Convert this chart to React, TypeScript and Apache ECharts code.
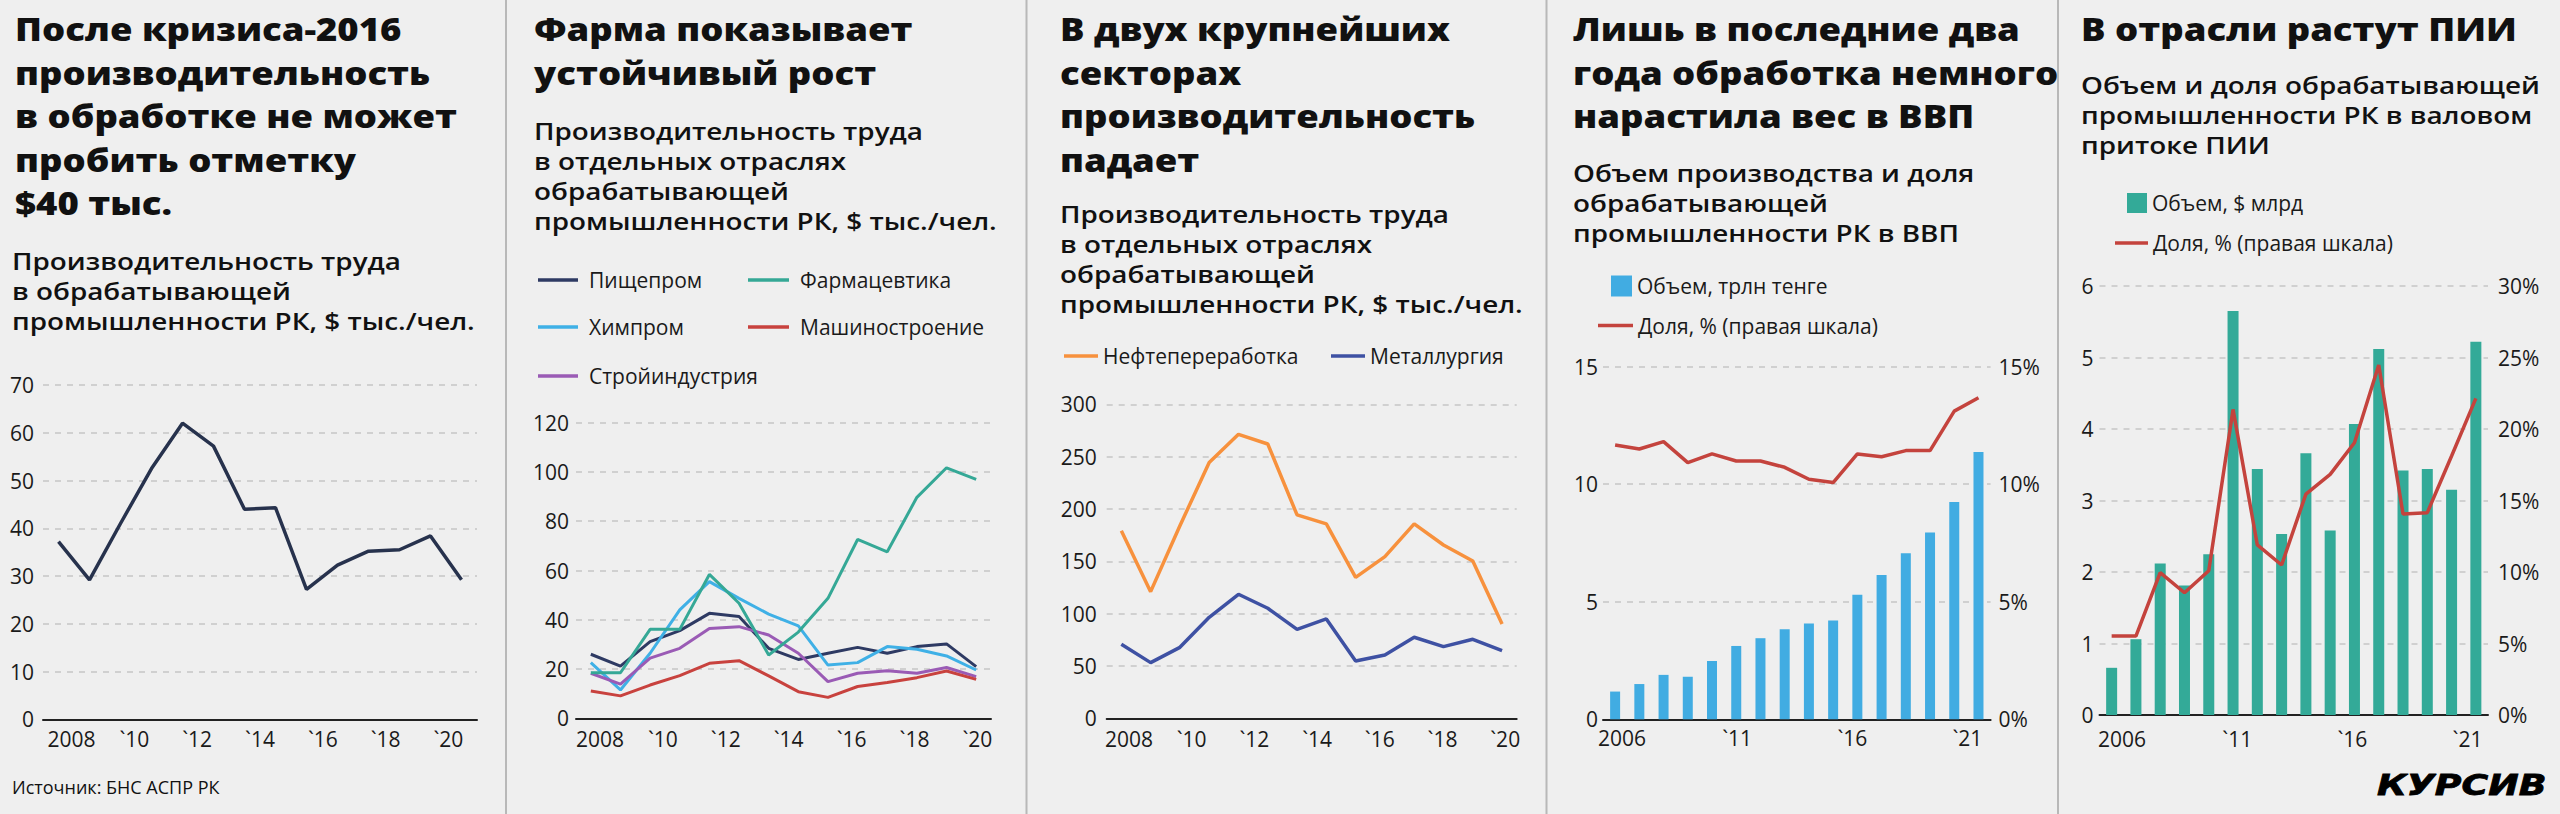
import React, { useEffect, useRef } from 'react';
import * as echarts from 'echarts';

const FONT = '"Open Sans", "Noto Sans", sans-serif';
const TEXT = '#1a1a1a';
const GRID_LINE = '#c6c6c6';
const BG = '#efefef';

// ---------- Panel 1: productivity in manufacturing ----------
const years0821 = ['2008', '2009', '2010', '2011', '2012', '2013', '2014', '2015', '2016', '2017', '2018', '2019', '2020', '2021'];
const manufacturingProductivity = [37.2, 29.2, 41, 52.5, 62, 57.2, 44.0, 44.3, 27.2, 32.3, 35.2, 35.5, 38.4, 29.2];

// ---------- Panel 2: selected industries ----------
const foodIndustry = [26.0, 21.2, 31.1, 35.6, 42.6, 41.3, 28.4, 23.9, 26.4, 28.8, 26.4, 29.1, 30.2, 21.0];
const pharma = [18.5, 18.5, 36.1, 36.1, 58.4, 46.7, 25.7, 35.0, 48.7, 72.6, 67.6, 89.7, 101.7, 97.0];
const chemicals = [22.6, 11.5, 26.4, 44.0, 55.5, 48.7, 42.3, 37.5, 21.6, 22.6, 29.1, 28.0, 25.3, 19.6];
const machinery = [11.1, 9.1, 13.5, 17.3, 22.3, 23.4, 17.2, 10.8, 8.5, 12.9, 14.5, 16.5, 19.2, 15.8];
const construction = [18.3, 13.9, 24.4, 28.4, 36.5, 37.2, 33.8, 26.4, 14.9, 18.3, 19.3, 18.3, 20.6, 16.9];

// ---------- Panel 3: two largest sectors ----------
const oilRefining = [179.3, 121.0, 184, 244.3, 271.3, 262.1, 194.3, 185.7, 134.7, 154.5, 185.7, 165.6, 150.3, 90.1];
const metallurgy = [70.7, 53.2, 67.8, 96.5, 118.5, 105.1, 85.0, 94.9, 54.8, 60.5, 77.4, 68.5, 75.5, 64.6];

// ---------- Panel 4: output and share in GDP ----------
const years0621 = ['2006', '2007', '2008', '2009', '2010', '2011', '2012', '2013', '2014', '2015', '2016', '2017', '2018', '2019', '2020', '2021'];
const outputVolume = [1.18, 1.5, 1.89, 1.81, 2.48, 3.12, 3.45, 3.83, 4.08, 4.2, 5.3, 6.14, 7.06, 7.95, 9.24, 11.37];
const outputShare = [11.67, 11.5, 11.81, 10.92, 11.29, 10.99, 10.99, 10.72, 10.21, 10.07, 11.29, 11.17, 11.43, 11.43, 13.11, 13.68];

// ---------- Panel 5: FDI ----------
const fdiVolume = [0.66, 1.06, 2.12, 1.81, 2.25, 5.65, 3.44, 2.53, 3.66, 2.58, 4.07, 5.12, 3.42, 3.44, 3.15, 5.22];
const fdiShare = [5.52, 5.52, 9.95, 8.55, 10.09, 21.37, 11.89, 10.49, 15.45, 16.83, 19.04, 24.48, 14.06, 14.15, 18.11, 22.14];

// ---------- Tick labels ----------
const lineTickValues = [2008, 2010, 2012, 2014, 2016, 2018, 2020];
const lineTickLabels = ['2008', '`10', '`12', '`14', '`16', '`18', '`20'];
const barTickValues = [2006, 2011, 2016, 2021];
const barTickLabels = ['2006', '`11', '`16', '`21'];

const TITLE_SIZE = 32;
const TITLE_SCALE = 1.14;
const SUB_SIZE = 24;
const SUB_SCALE = 1.16;

function catAxis(gridIndex: number, data: string[]) {
  return {
    type: 'category', gridIndex, data, boundaryGap: true, position: 'bottom',
    axisLine: { show: true, onZero: false, lineStyle: { color: '#222', width: 2 } },
    axisTick: { show: false }, axisLabel: { show: false }, splitLine: { show: false },
  };
}

function labelAxis(gridIndex: number, min: number, max: number, values: number[], labels: string[], margin: number) {
  return {
    type: 'value', gridIndex, min, max, position: 'bottom',
    axisLine: { show: false }, axisTick: { show: false }, splitLine: { show: false },
    axisLabel: {
      show: true, customValues: values,
      formatter: (v: number) => { const i = values.indexOf(Math.round(v)); return i >= 0 ? labels[i] : ''; },
      fontSize: 21, fontFamily: FONT, color: TEXT, margin,
    },
  };
}

function yAxis(gridIndex: number, max: number, interval: number, margin: number, position: string, split: boolean, suffix = '') {
  return {
    type: 'value', gridIndex, min: 0, max, interval, position,
    axisLine: { show: false }, axisTick: { show: false },
    axisLabel: { fontSize: 21, fontFamily: FONT, color: TEXT, margin, formatter: (v: number) => `${v}${suffix}` },
    splitLine: { show: split, lineStyle: { color: GRID_LINE, width: 1.5, type: [6, 6] } },
  };
}

function legendItem(name: string, left: number, top: number, itemWidth: number, itemHeight: number, pad: number) {
  return {
    show: true, data: [name], left, top, orient: 'horizontal', padding: 0,
    itemWidth, itemHeight, selectedMode: false, icon: 'rect',
    textStyle: { fontSize: 21, fontFamily: FONT, color: TEXT, lineHeight: 24, padding: [0, 0, 0, pad] },
  };
}

function text(x: number, y: number, t: string, size: number, weight: any, lineHeight: number, scaleX = 1) {
  return {
    type: 'text', x, y, scaleX, silent: true,
    style: {
      text: t, fill: '#111', fontFamily: FONT, fontSize: size, fontWeight: weight, lineHeight,
      align: 'left', verticalAlign: 'top',
    },
  };
}

function lineSeries(name: string, data: number[], color: string, xAxisIndex: number, yAxisIndex: number, width = 3) {
  return {
    type: 'line', name, data, xAxisIndex, yAxisIndex, symbol: 'none', smooth: false,
    lineStyle: { color, width }, itemStyle: { color }, emphasis: { disabled: true },
  };
}

export default function App() {
  const ref = useRef<HTMLDivElement>(null);
  useEffect(() => {
    if (!ref.current) return;
    const chart = echarts.init(ref.current, null, { renderer: 'svg', width: 2560, height: 814 });

    const titleX = [15, 534, 1060, 1573, 2081];
    const subtitleTop = [246, 115.6, 199, 158, 70];
    const LH = 3.5; // legend line thickness

    const option: any = {
      animation: false,
      backgroundColor: BG,
      grid: [
        { left: 43, top: 385, width: 434, height: 334.3 },
        { left: 576, top: 422.7, width: 415, height: 295.6 },
        { left: 1106.7, top: 404.3, width: 410, height: 314 },
        { left: 1603, top: 366.7, width: 387.6, height: 352.6 },
        { left: 2099.5, top: 286, width: 388.5, height: 429 },
      ],
      xAxis: [
        catAxis(0, years0821),
        labelAxis(0, 2007.09, 2020.91, lineTickValues, lineTickLabels, 9),
        catAxis(1, years0821),
        labelAxis(1, 2007.237, 2020.433, lineTickValues, lineTickLabels, 10),
        catAxis(2, years0821),
        labelAxis(2, 2007.292, 2020.366, lineTickValues, lineTickLabels, 10),
        catAxis(3, years0621),
        labelAxis(3, 2005.175, 2022.005, barTickValues, barTickLabels, 8),
        catAxis(4, years0621),
        labelAxis(4, 2005.019, 2021.889, barTickValues, barTickLabels, 13),
      ],
      yAxis: [
        yAxis(0, 70, 10, 9, 'left', true),
        yAxis(1, 120, 20, 7, 'left', true),
        yAxis(2, 300, 50, 10, 'left', true),
        yAxis(3, 15, 5, 5, 'left', true),
        yAxis(3, 15, 5, 8, 'right', false, '%'),
        yAxis(4, 6, 1, 6, 'left', true),
        yAxis(4, 30, 5, 10, 'right', false, '%'),
      ],
      legend: [
        legendItem('Пищепром', 538, 268, 40, LH, 6),
        legendItem('Фармацевтика', 748, 268, 41, LH, 6),
        legendItem('Химпром', 538, 315, 40, LH, 6),
        legendItem('Машиностроение', 748, 315, 41, LH, 6),
        legendItem('Стройиндустрия', 538, 364, 40, LH, 6),
        legendItem('Нефтепереработка', 1064, 344, 34, LH, 0),
        legendItem('Металлургия', 1331, 344, 34, LH, 0),
        legendItem('Объем, трлн тенге', 1611, 274, 21, 21, 0),
        legendItem('Доля, % (правая шкала)', 1598, 313.5, 35, LH, 0),
        legendItem('Объем, $ млрд', 2127, 191, 20, 20, 0),
        legendItem('Доля, % (правая шкала)', 2115, 231, 33, LH, 0),
      ],
      series: [
        lineSeries('Производительность труда', manufacturingProductivity, '#27324d', 0, 0, 3.5),
        lineSeries('Пищепром', foodIndustry, '#2e3a63', 2, 1),
        lineSeries('Химпром', chemicals, '#3fb0e6', 2, 1),
        lineSeries('Стройиндустрия', construction, '#9a5bb5', 2, 1),
        lineSeries('Машиностроение', machinery, '#c8423e', 2, 1),
        lineSeries('Фармацевтика', pharma, '#35a896', 2, 1),
        lineSeries('Нефтепереработка', oilRefining, '#f7913d', 4, 2, 3.5),
        lineSeries('Металлургия', metallurgy, '#3e51a3', 4, 2, 3.5),
        {
          type: 'bar', name: 'Объем, трлн тенге', data: outputVolume, xAxisIndex: 6, yAxisIndex: 3,
          barWidth: 10, itemStyle: { color: '#41ace2' }, emphasis: { disabled: true },
        },
        lineSeries('Доля, % (правая шкала)', outputShare, '#c4433d', 6, 4, 3.5),
        {
          type: 'bar', name: 'Объем, $ млрд', data: fdiVolume, xAxisIndex: 8, yAxisIndex: 5,
          barWidth: 11, itemStyle: { color: '#33aa98' }, emphasis: { disabled: true },
        },
        lineSeries('Доля, % (правая шкала)', fdiShare, '#c4433d', 8, 6, 3.5),
      ],
      graphic: [
        ...[506, 1026.5, 1546.5, 2058].map((x) => ({
          type: 'line', silent: true, shape: { x1: x, y1: 0, x2: x, y2: 814 },
          style: { stroke: '#b8b8b8', lineWidth: 2 },
        })),
        text(titleX[0], 7, 'После кризиса-2016\nпроизводительность\nв обработке не может\nпробить отметку\n$40 тыс.', TITLE_SIZE, 800, 43.5, TITLE_SCALE),
        text(titleX[1], 7, 'Фарма показывает\nустойчивый рост', TITLE_SIZE, 800, 43.5, TITLE_SCALE),
        text(titleX[2], 7, 'В двух крупнейших\nсекторах\nпроизводительность\nпадает', TITLE_SIZE, 800, 43.5, TITLE_SCALE),
        text(titleX[3], 7, 'Лишь в последние два\nгода обработка немного\nнарастила вес в ВВП', TITLE_SIZE, 800, 43.5, TITLE_SCALE),
        text(titleX[4], 7, 'В отрасли растут ПИИ', TITLE_SIZE, 800, 43.5, TITLE_SCALE),
        text(12, subtitleTop[0], 'Производительность труда\nв обрабатывающей\nпромышленности РК, $ тыс./чел.', SUB_SIZE, 600, 30, SUB_SCALE),
        text(titleX[1], subtitleTop[1], 'Производительность труда\nв отдельных отраслях\nобрабатывающей\nпромышленности РК, $ тыс./чел.', SUB_SIZE, 600, 30, SUB_SCALE),
        text(titleX[2], subtitleTop[2], 'Производительность труда\nв отдельных отраслях\nобрабатывающей\nпромышленности РК, $ тыс./чел.', SUB_SIZE, 600, 30, SUB_SCALE),
        text(titleX[3], subtitleTop[3], 'Объем производства и доля\nобрабатывающей\nпромышленности РК в ВВП', SUB_SIZE, 600, 30, SUB_SCALE),
        text(titleX[4], subtitleTop[4], 'Объем и доля обрабатывающей\nпромышленности РК в валовом\nпритоке ПИИ', SUB_SIZE, 600, 30, SUB_SCALE),
        text(12, 775, 'Источник: БНС АСПР РК', 18, 400, 24, 1),
        {
          type: 'text', x: 2377, y: 786, scaleX: 1.3, silent: true,
          style: {
            text: 'КУРСИВ', fill: '#000', fontFamily: '"DejaVu Sans", sans-serif', fontSize: 28,
            fontWeight: 'bold', fontStyle: 'italic', align: 'left', verticalAlign: 'middle',
            stroke: '#000', lineWidth: 0.8,
          },
        },
      ],
    };
    chart.setOption(option);
    return () => chart.dispose();
  }, []);
  return <div ref={ref} style={{ position: 'fixed', left: 0, top: 0, width: 2560, height: 814 }} />;
}
